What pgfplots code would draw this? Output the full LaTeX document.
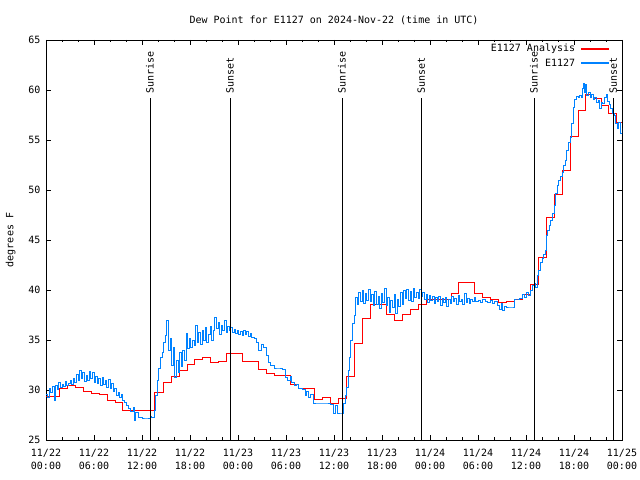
\documentclass[border=0pt]{standalone}
\usepackage{pgfplots}
\pgfplotsset{compat=1.18}
\usepackage{fontspec}
\setmainfont{DejaVu Sans Mono}
\definecolor{anared}{RGB}{255,0,0}
\definecolor{obsblue}{RGB}{0,130,255}
\begin{document}
\fontsize{10bp}{12bp}\selectfont
\begin{tikzpicture}
\begin{axis}[
  scale only axis, width=576bp, height=400bp,
  xmin=0, xmax=72, ymin=25, ymax=65,
  xtick={0,6,...,72},
  xticklabels={11/22\\00:00,11/22\\06:00,11/22\\12:00,11/22\\18:00,11/23\\00:00,11/23\\06:00,11/23\\12:00,11/23\\18:00,11/24\\00:00,11/24\\06:00,11/24\\12:00,11/24\\18:00,11/25\\00:00},
  xticklabel style={align=center, font=\fontsize{10bp}{13bp}\selectfont, yshift=-6bp},
  minor x tick num=2,
  ytick={25,30,...,65},
  yticklabel style={font=\fontsize{10bp}{12bp}\selectfont, xshift=-2bp},
  /pgf/number format/assume math mode=true,
  xtick pos=both, ytick pos=both,
  xticklabel pos=lower, yticklabel pos=left,
  tick align=inside,
  major tick length=5bp, minor tick length=2.5bp,
  tick style={black, line width=0.6pt},
  axis line style={black, line width=0.8pt},
  title={Dew Point for E1127 on 2024-Nov-22 (time in UTC)},
  title style={font=\fontsize{10bp}{12bp}\selectfont, at={(0.5,1)}, yshift=6bp},
  ylabel={degrees F},
  ylabel style={font=\fontsize{10bp}{12bp}\selectfont},
  ylabel shift=6bp,
  clip=true,
]
\addplot[const plot, color=anared, line width=1pt] coordinates {
(0,29.4) (1.7,30.2) (2.7,30.5) (3.7,30.3) (4.7,29.9) (5.7,29.7) (6.7,29.6) (7.7,29.0) (8.7,28.8) (9.6,28.0)
(13.5,29.8) (14.7,30.8) (15.7,31.4) (16.7,32.0) (17.7,32.6) (18.6,33.1) (19.6,33.3) (20.6,32.8) (21.6,32.9)
(22.6,33.7) (24.6,32.9) (26.6,32.1) (27.6,31.7) (28.6,31.5) (30.6,30.6) (31.6,30.2) (33.6,29.1) (34.6,29.3)
(35.6,28.7) (36.6,29.2) (37.6,31.4) (38.6,34.7) (39.6,37.2) (40.6,38.6) (42.6,37.6) (43.6,37.0) (44.6,37.6)
(45.5,38.1) (46.5,38.6) (47.5,39.1) (50.7,39.7) (51.6,40.8) (53.6,39.7) (54.6,39.3) (55.6,39.1) (56.6,38.8)
(57.6,38.9) (58.6,39.1) (59.6,39.6) (60.6,40.6) (61.5,43.3) (62.5,47.3) (63.5,49.6) (64.5,52.0) (65.5,55.4)
(66.5,58.0) (67.4,59.6) (68.4,59.2) (69.4,58.5) (70.3,57.7) (71.3,56.8) (72,56.8)
};
\addplot[const plot, color=obsblue, line width=1pt] coordinates {
(0,29.6) (0.2,29.3) (0.4,30.2) (0.6,29.8) (0.8,30.4) (1.0,29.0) (1.2,30.5) (1.4,30.1) (1.6,30.8) (1.8,30.3)
(2.0,30.6) (2.2,30.4) (2.4,30.9) (2.6,30.5) (2.8,30.7) (3.0,31.0) (3.2,30.6) (3.4,31.2) (3.6,30.8) (3.8,31.6)
(4.0,31.0) (4.2,32.0) (4.4,31.2) (4.6,31.8) (4.8,30.9) (5.0,31.5) (5.2,31.0) (5.4,31.9) (5.6,31.2) (5.8,31.8)
(6.0,30.8) (6.2,31.4) (6.4,30.7) (6.6,31.2) (6.8,30.5) (7.0,31.3) (7.2,30.6) (7.4,31.0) (7.6,30.3) (7.8,31.1)
(8.0,30.2) (8.2,30.7) (8.4,29.9) (8.6,30.2) (8.8,29.5) (9.0,29.8) (9.2,29.3) (9.4,29.6) (9.6,29.0) (9.8,28.8)
(10.0,28.5) (10.3,28.2) (10.6,27.9) (10.9,28.3) (11.0,27.0) (11.2,27.8) (11.5,27.3) (12.0,27.2) (12.5,27.2)
(13.0,27.4) (13.2,27.3) (13.5,28.0) (13.7,29.5) (13.9,31.0) (14.1,32.2) (14.3,33.3) (14.5,33.8) (14.7,34.8)
(14.9,35.5) (15.1,37.0) (15.3,34.0) (15.5,35.2) (15.7,32.5) (15.9,34.3) (16.1,31.3) (16.3,33.0) (16.5,31.8)
(16.7,33.8) (16.9,32.4) (17.1,34.0) (17.3,33.0) (17.5,35.7) (17.7,34.2) (17.9,35.2) (18.1,34.3) (18.3,35.0)
(18.5,34.5) (18.7,36.5) (18.9,34.8) (19.1,35.8) (19.3,34.6) (19.5,36.0) (19.7,35.0) (19.9,36.3) (20.1,34.8)
(20.3,35.6) (20.5,36.4) (20.7,35.0) (20.9,36.0) (21.1,37.3) (21.3,36.2) (21.5,36.8) (21.7,35.6) (21.9,36.5)
(22.1,36.0) (22.3,37.0) (22.5,35.8) (22.7,36.4) (22.9,36.0) (23.1,36.3) (23.3,35.8) (23.5,36.1) (23.7,35.7)
(23.9,36.0) (24.1,35.6) (24.3,35.9) (24.5,35.5) (24.7,36.0) (24.9,35.6) (25.1,35.9) (25.3,35.4) (25.5,35.7)
(25.7,35.3) (26.0,35.2) (26.3,34.8) (26.6,34.0) (26.9,34.6) (27.2,34.3) (27.5,33.5) (27.8,32.8) (28.1,32.5)
(28.5,32.2) (29.0,32.2) (29.5,32.1) (29.9,31.3) (30.2,31.0) (30.5,31.4) (30.7,30.8) (31.0,30.5) (31.3,30.6)
(31.6,30.2) (32.0,30.1) (32.4,29.5) (32.6,29.9) (32.8,29.3) (33.1,29.6) (33.4,28.7) (34.0,28.7) (34.5,28.7)
(35.0,28.7) (35.5,28.6) (35.9,27.7) (36.2,28.5) (36.4,27.7) (37.0,27.7) (37.2,28.7) (37.4,29.5) (37.6,30.3)
(37.8,32.0) (37.95,33.3) (38.1,35.0) (38.3,36.7) (38.5,37.5) (38.7,39.3) (38.9,38.6) (39.1,39.8) (39.3,38.9)
(39.5,40.0) (39.7,38.7) (39.9,39.7) (40.1,39.0) (40.3,40.1) (40.5,38.9) (40.7,39.6) (40.9,38.5) (41.1,39.9)
(41.3,38.6) (41.5,39.4) (41.7,38.2) (41.9,39.7) (42.1,38.8) (42.3,40.2) (42.5,38.5) (42.7,39.3) (42.9,37.8)
(43.1,39.0) (43.3,38.3) (43.5,39.6) (43.7,37.7) (43.9,39.1) (44.1,38.4) (44.3,39.8) (44.5,38.6) (44.7,40.0)
(44.9,39.2) (45.1,40.1) (45.3,39.0) (45.5,39.9) (45.7,38.9) (45.9,40.2) (46.1,39.3) (46.3,39.8) (46.5,39.2)
(46.7,40.1) (46.9,39.4) (47.1,39.8) (47.3,39.1) (47.5,39.6) (47.7,38.8) (47.9,39.5) (48.1,39.0) (48.3,39.4)
(48.5,38.7) (48.7,39.3) (48.9,38.9) (49.1,39.4) (49.3,38.5) (49.5,39.2) (49.7,38.8) (49.9,39.3) (50.1,38.4)
(50.3,39.1) (50.5,38.7) (50.7,39.4) (50.9,38.9) (51.1,39.2) (51.3,38.6) (51.5,39.5) (51.7,38.9) (51.9,39.1)
(52.1,38.6) (52.3,39.7) (52.5,38.8) (52.7,39.2) (52.9,38.7) (53.1,39.1) (53.3,38.9) (53.5,39.3) (53.7,38.9)
(54.0,39.0) (54.3,38.8) (54.6,39.1) (54.9,38.9) (55.2,38.8) (55.5,39.0) (55.8,38.7) (56.1,38.9) (56.4,38.5)
(56.7,38.1) (56.9,38.7) (57.1,38.0) (57.3,38.4) (57.6,38.3) (58.0,38.3) (58.3,38.3) (58.6,39.1) (58.9,39.1)
(59.2,39.2) (59.5,39.6) (59.8,39.3) (60.0,39.8) (60.3,39.5) (60.6,40.0) (60.8,40.5) (61.0,40.7) (61.2,40.3)
(61.4,41.5) (61.6,42.0) (61.8,42.8) (62.0,43.2) (62.2,43.6) (62.4,44.0) (62.6,45.5) (62.7,46.0) (62.9,46.5)
(63.1,47.0) (63.3,47.7) (63.5,48.5) (63.7,49.7) (63.9,50.5) (64.1,51.0) (64.3,51.4) (64.5,51.8) (64.7,52.5)
(64.9,53.0) (65.1,54.0) (65.3,54.8) (65.5,55.3) (65.7,56.7) (65.9,58.3) (66.1,59.1) (66.3,59.4) (66.5,59.3)
(66.7,59.5) (66.9,59.3) (67.0,60.2) (67.2,60.7) (67.3,59.8) (67.45,60.6) (67.6,59.5) (67.8,59.8) (68.0,59.3)
(68.2,59.6) (68.4,59.1) (68.6,59.3) (68.8,58.8) (69.0,59.0) (69.2,58.2) (69.4,58.8) (69.6,58.7) (69.8,59.3)
(70.0,59.6) (70.2,58.9) (70.4,58.6) (70.6,58.2) (70.8,57.7) (71.0,57.5) (71.2,56.7) (71.4,56.2) (71.6,56.8)
(71.8,55.7) (72.0,56.2)
};
\foreach \h/\lab in {13/Sunrise, 23/Sunset, 37/Sunrise, 46.9/Sunset, 61/Sunrise, 70.9/Sunset} {
  \edef\temp{\noexpand\draw[black, line width=0.8pt] (axis cs:\h,25) -- (axis cs:\h,59.2);
    \noexpand\node[rotate=90, anchor=west, inner sep=0pt, font=\noexpand\fontsize{10bp}{12bp}\noexpand\selectfont] at (axis cs:\h,59.6) {\lab};}
  \temp
}
% legend (text left of line sample, as in the reference)
\node[anchor=east, inner sep=0pt] at (rel axis cs:0.919,0.9775) {E1127 Analysis};
\draw[anared, line width=1.3pt] (rel axis cs:0.929,0.9775) -- (rel axis cs:0.977,0.9775);
\node[anchor=east, inner sep=0pt] at (rel axis cs:0.919,0.9425) {E1127};
\draw[obsblue, line width=1.3pt] (rel axis cs:0.929,0.9425) -- (rel axis cs:0.977,0.9425);
\end{axis}
\pgfresetboundingbox
\path[use as bounding box] (current axis.south west) ++(-46bp,-40bp) rectangle ++(640bp,480bp);
\end{tikzpicture}
\end{document}
